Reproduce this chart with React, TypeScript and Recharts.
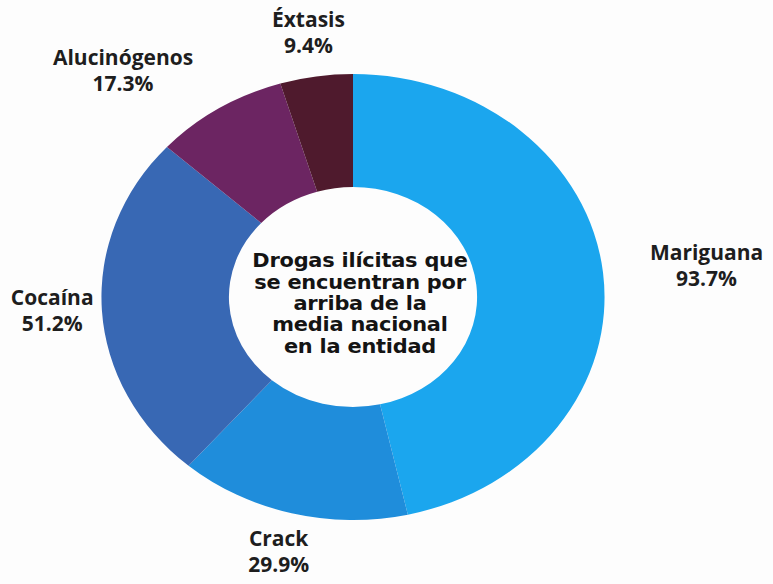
import { PieChart, Pie, Cell } from "recharts";

const drugs = ["Mariguana", "Crack", "Cocaína", "Alucinógenos", "Éxtasis"];
const percents = [93.7, 29.9, 51.2, 17.3, 9.4];
const sliceColors = ["#1ba6ee", "#1f8ddb", "#3868b4", "#6c2562", "#4f1a2d"];
const centerLines = [
  "Drogas ilícitas que",
  "se encuentran por",
  "arriba de la",
  "media nacional",
  "en la entidad",
];

const W = 773;
const H = 584;
const CX = 353;
const CY = 297;
const STRETCH = 1.128;
const LABEL_RX = 305;
const LABEL_RY = 265;

const data = drugs.map((name, i) => ({ name, value: percents[i] }));

const renderLabel = (props: any) => {
  const { cx, cy, midAngle, name, value } = props;
  const rad = (-midAngle * Math.PI) / 180;
  const cos = Math.cos(rad);
  const sin = Math.sin(rad);
  const halfW = name.length * 5.6;
  let x = cx + LABEL_RX * cos;
  // push side labels out by half their width, but keep them on the canvas
  if (cos > 0.3) x += halfW;
  else if (cos < -0.3) x -= halfW;
  x = Math.min(Math.max(x, halfW + 13), W - halfW - 13);
  const y = cy + LABEL_RY * sin;
  return (
    <text
      x={x}
      y={y}
      textAnchor="middle"
      fill="#1e1e1e"
      fontFamily="'Open Sans', sans-serif"
      fontWeight={700}
      fontSize={21}
    >
      <tspan x={x} dy={-8}>
        {name}
      </tspan>
      <tspan x={x} dy={26}>
        {value.toFixed(1)}%
      </tspan>
    </text>
  );
};

const CenterText = () => (
  <g transform={`translate(${CX + 7} ${CY}) scale(1.1 1)`}>
    <text
      textAnchor="middle"
      fill="#141414"
      fontFamily="'DejaVu Sans', sans-serif"
      fontWeight={700}
      fontSize={19}
      letterSpacing={-0.2}
    >
      {centerLines.map((line, i) => (
        <tspan key={i} x={0} y={-30 + i * 21.5}>
          {line}
        </tspan>
      ))}
    </text>
  </g>
);

export default function App() {
  return (
    <div
      style={{
        position: "absolute",
        left: 0,
        top: 0,
        width: W,
        height: H,
        background: "#fdfdfd",
      }}
    >
      <style>{`
        .recharts-pie-sector {
          transform-box: view-box;
          transform-origin: ${CX}px ${CY}px;
          transform: scaleX(${STRETCH});
        }
      `}</style>
      <PieChart
        width={W}
        height={H}
        margin={{ top: 0, right: 0, bottom: 0, left: 0 }}
      >
        <Pie
          data={data}
          dataKey="value"
          nameKey="name"
          cx={CX}
          cy={CY}
          innerRadius={110}
          outerRadius={223}
          startAngle={90}
          endAngle={-270}
          stroke="none"
          label={renderLabel}
          labelLine={false}
          isAnimationActive={false}
        >
          {data.map((d, i) => (
            <Cell key={d.name} fill={sliceColors[i]} />
          ))}
        </Pie>
        <CenterText />
      </PieChart>
    </div>
  );
}
